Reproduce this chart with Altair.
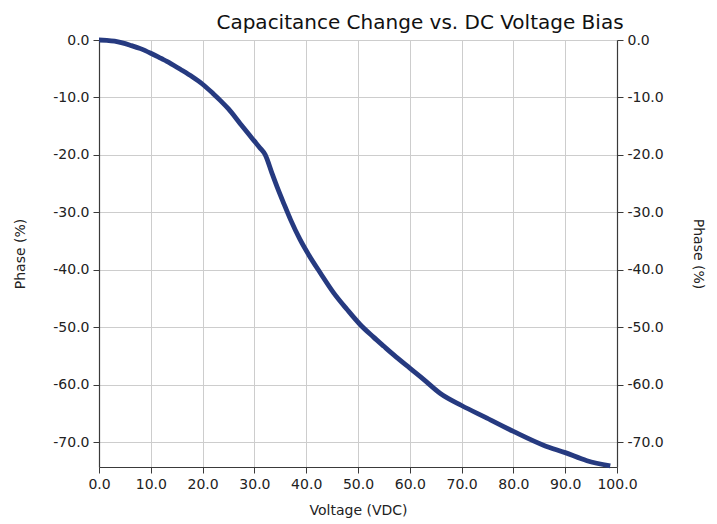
import altair as alt
import pandas as pd

voltage = [0, 1.5, 3, 4.5, 6, 8, 10, 12, 13.1, 15.7, 18, 20, 22, 23.4, 25, 27.3, 29, 30, 31,
           32.1, 33.4, 34.4, 35.7, 37.0, 38.8, 40.5, 42.7, 45.3, 47.9, 50.4, 53, 55, 56.9,
           60, 62.6, 65.9, 70, 74.9, 80, 85.8, 90, 94.2, 98.7]
phase = [0, -0.05, -0.2, -0.5, -0.9, -1.5, -2.3, -3.2, -3.7, -5.1, -6.4, -7.7, -9.3, -10.5,
         -12.0, -14.6, -16.5, -17.6, -18.7, -20.0, -23.2, -25.6, -28.5, -31.3, -34.7, -37.4,
         -40.5, -44.0, -46.9, -49.5, -51.7, -53.3, -54.8, -57.1, -59.0, -61.5, -63.6, -65.8,
         -68.1, -70.5, -71.8, -73.2, -74.1]
x_ticks = [0, 10, 20, 30, 40, 50, 60, 70, 80, 90, 100]
y_ticks = [0, -10, -20, -30, -40, -50, -60, -70]
x_domain = [0, 100]
y_domain = [-74.3, 0]

df = pd.DataFrame({"Voltage": voltage, "Phase": phase})

label_expr = "replace(format(datum.value, '.1f'), '\u2212', '-')"
FONT = "DejaVu Sans"
AX = "#3a3a3a"

x_enc = alt.X(
    "Voltage:Q",
    scale=alt.Scale(domain=x_domain, nice=False, zero=False),
    axis=alt.Axis(values=x_ticks, labelExpr=label_expr, title="Voltage (VDC)",
                  grid=True, gridColor="#cdcdcd", gridWidth=1, labelFlush=False,
                  titlePadding=12, labelPadding=4),
)

left = alt.Chart(df).mark_line(color="#263a80", strokeWidth=4.8, interpolate="monotone").encode(
    x=x_enc,
    y=alt.Y(
        "Phase:Q",
        scale=alt.Scale(domain=y_domain, nice=False, zero=False),
        axis=alt.Axis(orient="left", values=y_ticks, labelExpr=label_expr,
                      title="Phase (%)", grid=True, gridColor="#cdcdcd",
                      titlePadding=25, labelPadding=4),
    ),
)

right = alt.Chart(df).mark_line(opacity=0).encode(
    x=x_enc,
    y=alt.Y(
        "Phase:Q",
        scale=alt.Scale(domain=y_domain, nice=False, zero=False),
        axis=alt.Axis(orient="right", values=y_ticks, labelExpr=label_expr,
                      title="Phase (%)", grid=False, titlePadding=27, labelPadding=4),
    ),
)

chart = alt.layer(left, right).resolve_axis(y="independent").properties(
    width=518,
    height=427,
    autosize="none",
    padding={"left": 91, "top": 32, "right": 90, "bottom": 56},
    title=alt.Title("Capacitance Change vs. DC Voltage Bias", fontSize=20, font=FONT,
                    fontWeight="normal", color="#111", anchor="middle", dx=62, dy=9,
                    offset=6),
).configure_view(stroke=None).configure_axis(
    labelFont=FONT, titleFont=FONT, labelFontSize=14, titleFontSize=14,
    titleFontWeight="normal", labelColor="#222", titleColor="#222",
    domainColor=AX, tickColor=AX, tickSize=6, domainWidth=1.2,
)

chart.save("out.html", embed_options={"renderer": "svg", "actions": False})
